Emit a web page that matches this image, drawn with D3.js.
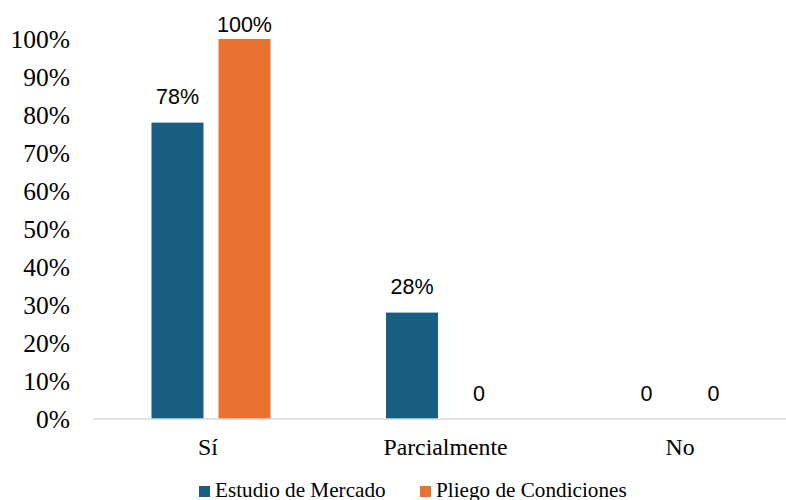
<!DOCTYPE html>
<html>
<head>
<meta charset="utf-8">
<script src="https://cdn.jsdelivr.net/npm/d3@7"></script>
<style>
  body { margin: 0; background: #fff; }
  svg { display: block; }
  .serif { font-family: 'Liberation Serif', 'DejaVu Serif', 'Times New Roman', Times, serif; }
  .sans { font-family: 'Liberation Sans', Arial, Helvetica, sans-serif; }
</style>
</head>
<body>
<div id="graph"></div>
<script>
var categories = ['Sí', 'Parcialmente', 'No']
var series = ['Estudio de Mercado', 'Pliego de Condiciones']
var estudio = [0.78, 0.28, 0]
var pliego = [1, 0, 0]
var labelsEstudio = ['78%', '28%', '0']
var labelsPliego = ['100%', '0', '0']
var colors = ['#175e80', '#e97132']
var yTicks = d3.range(0, 1.01, 0.1)

var width = 786, height = 500
var svg = d3.select('#graph').html('')
  .append('svg').attr('width', width).attr('height', height)

var x0 = d3.scaleBand().domain(categories).range([93.75, 797.25])
var x1 = d3.scaleBand().domain(series).range([-59.5, 59.5]).paddingInner(0.224)
var y = d3.scaleLinear().domain([0, 1]).range([419, 39])

// y tick labels (no axis line)
svg.append('g')
  .selectAll('text').data(yTicks).join('text')
  .attr('class', 'serif')
  .attr('x', 70)
  .attr('y', d => y(d))
  .attr('dy', '0.35em')
  .attr('text-anchor', 'end')
  .attr('font-size', 25.5)
  .attr('fill', '#000')
  .text(d => Math.round(d * 100) + '%')

var rows = categories.map((c, i) => ({
  cat: c,
  vals: [
    {s: series[0], v: estudio[i], label: labelsEstudio[i], color: colors[0]},
    {s: series[1], v: pliego[i], label: labelsPliego[i], color: colors[1]}
  ]
}))

var g = svg.selectAll('g.cat').data(rows).join('g')
  .attr('class', 'cat')
  .attr('transform', d => `translate(${x0(d.cat) + x0.bandwidth() / 2},0)`)

g.selectAll('rect').data(d => d.vals.filter(e => e.v > 0)).join('rect')
  .attr('x', d => x1(d.s))
  .attr('width', x1.bandwidth())
  .attr('y', d => y(d.v))
  .attr('height', d => y(0) - y(d.v))
  .attr('fill', d => d.color)

// labels above bars, kept inside the plot at the top
g.selectAll('text.val').data(d => d.vals).join('text')
  .attr('class', 'val sans')
  .attr('x', d => x1(d.s) + x1.bandwidth() / 2)
  .attr('y', d => Math.max(y(d.v) - 18.5, 32))
  .attr('text-anchor', 'middle')
  .attr('font-size', 21.5)
  .attr('fill', '#000')
  .text(d => d.label)

// baseline
svg.append('line')
  .attr('x1', 93).attr('x2', width)
  .attr('y1', y(0)).attr('y2', y(0))
  .attr('stroke', '#d9d9d9').attr('stroke-width', 1.5)

// category labels
svg.append('g')
  .selectAll('text').data(categories).join('text')
  .attr('class', 'serif')
  .attr('x', d => x0(d) + x0.bandwidth() / 2 - (d === 'Sí' ? 3 : 0))
  .attr('y', 455)
  .attr('text-anchor', 'middle')
  .attr('font-size', 23.8)
  .attr('fill', '#000')
  .text(d => d)

// legend
var legendX = [199, 420]
var lg = svg.append('g').selectAll('g').data(series).join('g')
  .attr('transform', (d, i) => `translate(${legendX[i]},486)`)
lg.append('rect')
  .attr('width', 11).attr('height', 11)
  .attr('fill', (d, i) => colors[i])
lg.append('text')
  .attr('class', 'serif')
  .attr('x', 16).attr('y', 10.5)
  .attr('font-size', 21.2)
  .attr('fill', '#000')
  .text(d => d)
</script>
</body>
</html>
